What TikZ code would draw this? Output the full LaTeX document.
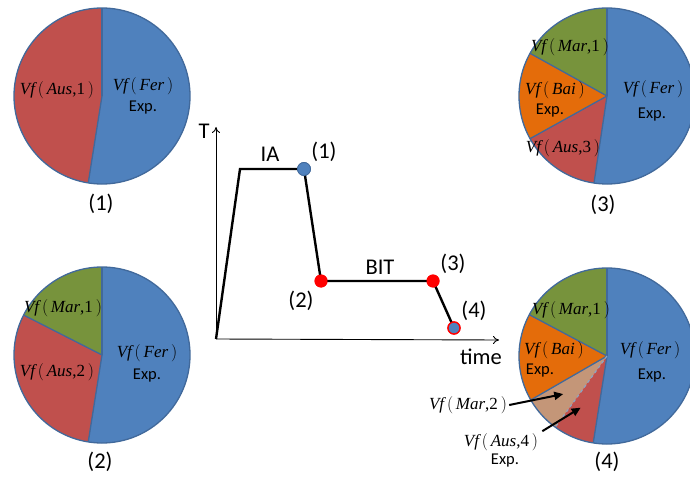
\documentclass[tikz,border=0pt]{standalone}
\usepackage{fontspec}
\setmainfont{Carlito}
\newfontfamily\tms{Liberation Serif}
\usetikzlibrary{arrows.meta}
\definecolor{pblue}{RGB}{79,129,189}
\definecolor{pred}{RGB}{192,80,77}
\definecolor{pgreen}{RGB}{119,147,60}
\definecolor{porange}{RGB}{228,108,10}
\definecolor{ptan}{RGB}{196,150,120}
\definecolor{pedge}{RGB}{65,105,155}
\newcommand{\vf}[2]{{\tms\itshape Vf}$\,\bigl($\,{\tms\itshape #1}{\tms #2}$\,\bigr)$}
\newcommand{\pslice}[3]{\fill[#1] (0,0) -- (#2:88) arc[start angle=#2, end angle=#3, radius=88] -- cycle;}
\newcommand{\pline}[1]{\draw[pieedge] (0,0) -- (#1:88);}
\tikzset{
  pieedge/.style={draw=pedge, line width=1.3pt},
  vflab/.style={font=\fontsize{17}{19}\selectfont, inner sep=0pt},
  explab/.style={font=\fontsize{16.5}{18}\selectfont, inner sep=0pt},
  biglab/.style={font=\fontsize{22.5}{24}\selectfont, inner sep=0pt},
  curve/.style={line width=2.4pt, black},
  axis/.style={line width=0.9pt, black, -{To[length=6pt,width=8pt]}},
  reddot/.style={circle, fill=red, minimum size=13pt, inner sep=0pt},
  bluedot/.style={circle, fill=pblue, draw=pedge, line width=0.8pt, minimum size=13pt, inner sep=0pt},
  bluereddot/.style={circle, fill=pblue, draw=red, line width=1.3pt, minimum size=12pt, inner sep=0pt},
  pointer/.style={line width=2pt, black, -{Triangle[length=9pt,width=8pt]}}
}
\begin{document}
\begin{tikzpicture}[x=1pt,y=-1pt]
\useasboundingbox (0,0) rectangle (690,478);
\clip (0,0) rectangle (690,478);
\fill[white] (0,0) rectangle (690,478);
% ---------- pie 1
\begin{scope}[shift={(102,96)}, yscale=-1]
  \pslice{pblue}{-99}{90}
  \pslice{pred}{90}{261}
  \pline{90}\pline{261}
  \draw[pieedge] (0,0) circle[radius=88];
\end{scope}
\node[vflab] (p1aus) at (57,90) {\vf{Aus}{,1}};
\node[vflab] (p1fer) at (143,86) {\vf{Fer}{}};
\node[explab] (p1exp) at (143,108) {Exp.};
\node[biglab] (p1lab) at (101,204) {(1)};
% ---------- pie 2
\begin{scope}[shift={(102,355)}, yscale=-1]
  \pslice{pblue}{-99}{90}
  \pslice{pgreen}{90}{153}
  \pslice{pred}{153}{261}
  \pline{90}\pline{153}\pline{261}
  \draw[pieedge] (0,0) circle[radius=88];
\end{scope}
\node[vflab] (p2mar) at (63,308) {\vf{Mar}{,1}};
\node[vflab] (p2aus) at (57,372) {\vf{Aus}{,2}};
\node[vflab] (p2fer) at (147,353) {\vf{Fer}{}};
\node[explab] (p2exp) at (147,376) {Exp.};
\node[biglab] (p2lab) at (100,462) {(2)};
% ---------- pie 3
\begin{scope}[shift={(607,96)}, yscale=-1]
  \pslice{pblue}{-98.5}{90}
  \pslice{pgreen}{90}{151}
  \pslice{porange}{151}{209}
  \pslice{pred}{209}{261.5}
  \pline{90}\pline{151}\pline{209}\pline{261.5}
  \draw[pieedge] (0,0) circle[radius=88];
\end{scope}
\node[vflab] (p3mar) at (570,47) {\vf{Mar}{,1}};
\node[vflab] (p3bai) at (555,90) {\vf{Bai}{}};
\node[explab] (p3bexp) at (550,111) {Exp.};
\node[vflab] (p3aus) at (563,148) {\vf{Aus}{,3}};
\node[vflab] (p3fer) at (653,89) {\vf{Fer}{}};
\node[explab] (p3exp) at (652,115) {Exp.};
\node[biglab] (p3lab) at (603,205) {(3)};
% ---------- pie 4
\begin{scope}[shift={(607,356)}, yscale=-1]
  \pslice{pblue}{-99}{90}
  \pslice{pgreen}{90}{152}
  \pslice{porange}{152}{210}
  \pslice{ptan}{210}{234}
  \pslice{pred}{234}{261}
  \pline{90}\pline{152}\pline{210}\pline{261}
  \draw[draw=pedge!60!white, line width=1.2pt, dashed] (0,0) -- (234:88);
  \draw[pieedge] (0,0) circle[radius=88];
  \coordinate (tanpt) at (221:58);
  \coordinate (redpt) at (243:58);
\end{scope}
\node[vflab] (p4mar) at (571,310) {\vf{Mar}{,1}};
\node[vflab] (p4bai) at (554,350) {\vf{Bai}{}};
\node[explab] (p4bexp) at (540,371) {Exp.};
\node[vflab] (p4fer) at (650,350) {\vf{Fer}{}};
\node[explab] (p4exp) at (652,376) {Exp.};
\node[vflab] (p4mar2) at (468,405) {\vf{Mar}{,2}};
\node[vflab] (p4aus) at (501,442) {\vf{Aus}{,4}};
\node[explab] (p4aexp) at (505,461) {Exp.};
\node[biglab] (p4lab) at (607,462) {(4)};
\draw[pointer] (p4mar2.east) ++(2,0) -- (tanpt);
\draw[pointer] (p4aus.north east) ++(4,-2) -- (redpt);
% ---------- chart
\coordinate (o) at (216,339);
\coordinate (ytop) at (216,127);
\coordinate (xend) at (499,340);
\draw[axis] (o) -- (ytop);
\draw[axis] (o) -- (xend);
\coordinate (c1) at (240,169);
\node[bluedot] (d1) at (304,169) {};
\node[reddot] (d2) at (321,281) {};
\node[reddot] (d3) at (433,281) {};
\node[bluereddot] (d4) at (454,328) {};
\draw[curve] (o) -- (c1) -- (d1.center) -- (d2.center) -- (d3.center) -- (d4.center);
\node[bluedot] at (d1) {};
\node[reddot] at (d2) {};
\node[reddot] at (d3) {};
\node[bluereddot] at (d4) {};
\node[biglab] (tlab) at (204,131) {T};
\node[biglab] (timelab) at (481,357) {time};
\node[biglab] (ialab) at (270,154) {IA};
\node[biglab] (l1) at (324,152) {(1)};
\node[biglab] (bitlab) at (380,267) {BIT};
\node[biglab] (l2) at (301,301) {(2)};
\node[biglab] (l3) at (453,264) {(3)};
\node[biglab] (l4) at (474,311) {(4)};
\end{tikzpicture}
\end{document}
